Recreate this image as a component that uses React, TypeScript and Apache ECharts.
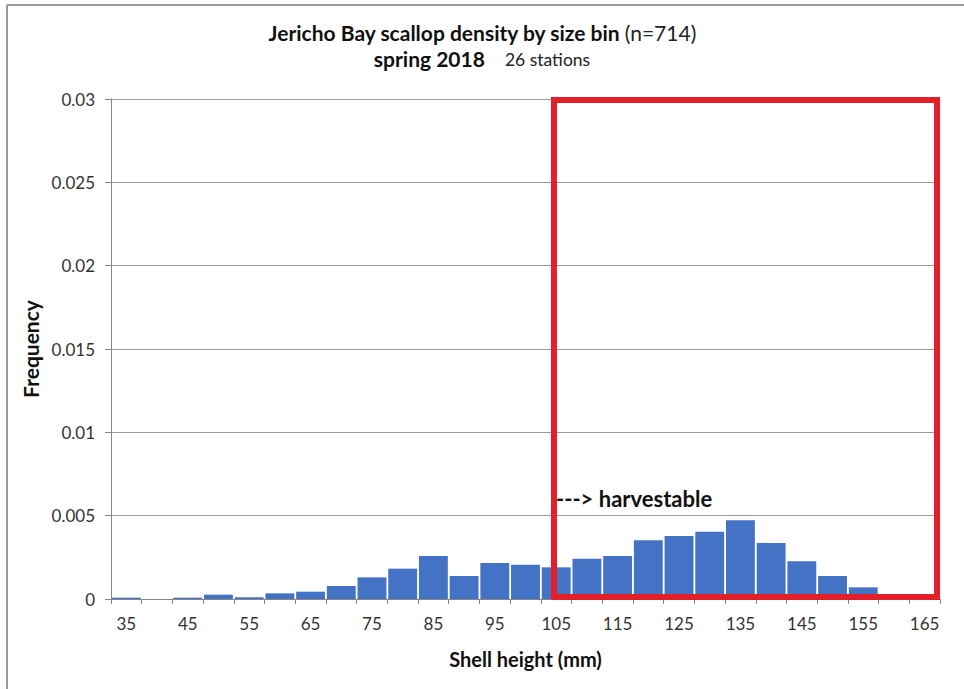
import React, { useEffect, useRef } from "react";
import * as echarts from "echarts";

const sizeBins = [
  "35", "40", "45", "50", "55", "60", "65", "70", "75", "80", "85", "90", "95", "100",
  "105", "110", "115", "120", "125", "130", "135", "140", "145", "150", "155", "160", "165",
];
const frequency = [
  0.00008, 0, 0.00008, 0.00026, 0.0001, 0.00034, 0.00044, 0.00078, 0.0013, 0.00182,
  0.00258, 0.00138, 0.00216, 0.00206, 0.0019, 0.00242, 0.00258, 0.00352, 0.00378,
  0.00404, 0.00472, 0.00336, 0.00226, 0.00138, 0.0007, 0, 0,
];
const yTicks = { min: 0, max: 0.03, interval: 0.005 };

const FONT = "Lato, 'Open Sans', sans-serif";

export default function App() {
  const ref = useRef<HTMLDivElement>(null);
  useEffect(() => {
    document.body.style.margin = "0";
    const chart = echarts.init(ref.current!, null, { renderer: "svg" });
    chart.setOption({
      animation: false,
      backgroundColor: "#ffffff",
      title: {
        left: "center",
        top: 14,
        text:
          "{b|Jericho Bay scallop density by size bin} {n|(n=714)}\n{b|spring 2018}{g|}{s|26 stations}",
        textStyle: {
          fontFamily: FONT,
          lineHeight: 26,
          rich: {
            b: { fontFamily: FONT, fontSize: 21, fontWeight: "bold", color: "#111", lineHeight: 26 },
            n: { fontFamily: FONT, fontSize: 21, fontWeight: "normal", color: "#222", lineHeight: 26 },
            s: { fontFamily: FONT, fontSize: 17.5, fontWeight: "normal", color: "#222", lineHeight: 26, padding: [3, 0, 0, 0] },
            g: { width: 20, lineHeight: 26 },
          },
        },
      },
      grid: { left: 111, right: 24, top: 99, bottom: 90, containLabel: false },
      xAxis: {
        type: "category",
        data: sizeBins,
        boundaryGap: true,
        name: "Shell height (mm)",
        nameLocation: "middle",
        nameGap: 50,
        nameTextStyle: { fontFamily: FONT, fontSize: 20, fontWeight: "bold", color: "#111" },
        axisLine: { lineStyle: { color: "#868686", width: 1 } },
        axisTick: { show: true, interval: 0, length: 5, lineStyle: { color: "#868686" } },
        axisLabel: { interval: 1, margin: 16, fontFamily: FONT, fontSize: 17, color: "#333" },
        splitLine: { show: false },
      },
      yAxis: {
        type: "value",
        min: yTicks.min,
        max: yTicks.max,
        interval: yTicks.interval,
        name: "Frequency",
        nameLocation: "middle",
        nameGap: 70,
        nameRotate: 90,
        nameTextStyle: { fontFamily: FONT, fontSize: 21, fontWeight: "bold", color: "#111" },
        axisLine: { show: true, lineStyle: { color: "#868686", width: 1 } },
        axisTick: { show: true, length: 6, lineStyle: { color: "#868686" } },
        axisLabel: { margin: 16, fontFamily: FONT, fontSize: 17, color: "#333" },
        splitLine: { show: true, lineStyle: { color: "#9a9a9a", width: 1 } },
      },
      series: [
        {
          type: "bar",
          data: frequency,
          barCategoryGap: "6%",
          itemStyle: { color: "#4472c4" },
        },
      ],
      graphic: [
        { type: "line", shape: { x1: 7, y1: 5, x2: 964, y2: 5 }, style: { stroke: "#9a9a9a", lineWidth: 2 } },
        { type: "line", shape: { x1: 7, y1: 5, x2: 7, y2: 689 }, style: { stroke: "#9a9a9a", lineWidth: 2 } },
        {
          type: "rect",
          z: 100,
          shape: { x: 554, y: 100, width: 383, height: 497 },
          style: { fill: "none", stroke: "#e3202a", lineWidth: 6 },
        },
        {
          type: "text",
          z: 100,
          left: 556,
          top: 487,
          style: {
            text: "---> harvestable",
            fontFamily: FONT,
            fontSize: 22,
            fontWeight: "bold",
            fill: "#111",
          },
        },
      ],
    });
    return () => chart.dispose();
  }, []);
  return <div ref={ref} style={{ width: 964, height: 689 }} />;
}
